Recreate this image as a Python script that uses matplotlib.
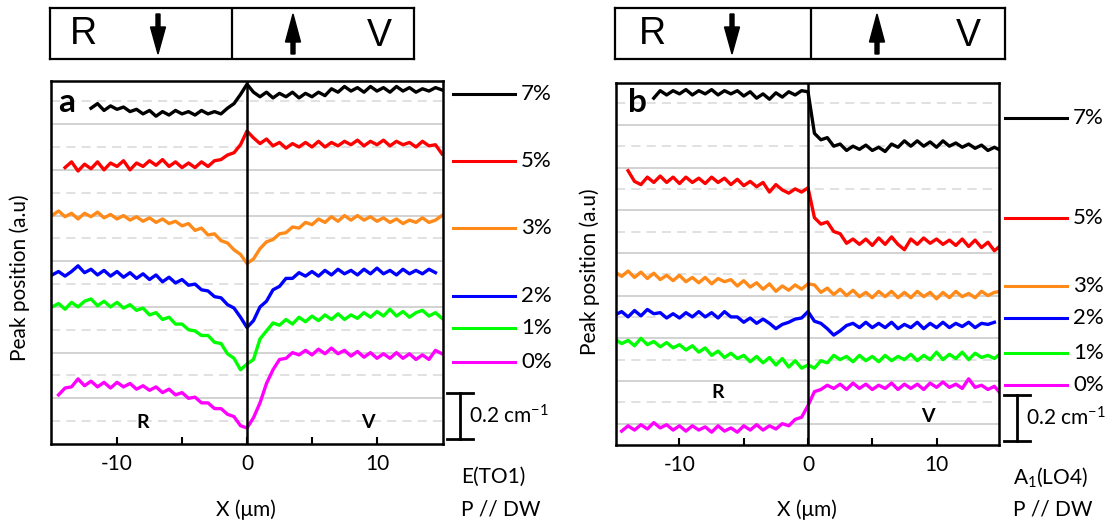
import numpy as np
import matplotlib.pyplot as plt
from matplotlib.lines import Line2D
from matplotlib.patches import FancyArrow

plt.rcParams['font.family'] = ['Lato', 'DejaVu Sans']
plt.rcParams['axes.unicode_minus'] = False
plt.rcParams['mathtext.default'] = 'regular'

nan = float('nan')

# position X (um), common grid for both panels
x = np.arange(-15, 15.01, 0.5)

labels = ['7%', '5%', '3%', '2%', '1%', '0%']
colors = ['#000000', '#ff0000', '#ff8a1a', '#0000ff', '#00ff00', '#ff00ff']

# panel a : E(TO1), peak shift in cm-1 (offset curves)
a_7 = [nan, nan, nan, nan, nan, nan,
       1.47, 1.49, 1.46, 1.48, 1.465, 1.475, 1.455, 1.465, 1.445, 1.46, 1.435, 1.455, 1.44, 1.46,
       1.445, 1.455, 1.44, 1.46, 1.445, 1.455, 1.445, 1.47, 1.49, 1.53, 1.575,
       1.54, 1.52, 1.54, 1.515, 1.535, 1.52, 1.54, 1.515, 1.535, 1.52, 1.54, 1.525, 1.555, 1.54, 1.565,
       1.545, 1.56, 1.54, 1.565, 1.545, 1.56, 1.54, 1.565, 1.545, 1.56, 1.54, 1.555, 1.545, 1.56, 1.55]
a_5 = [nan, nan,
       1.21, 1.235, 1.195, 1.225, 1.205, 1.235, 1.20, 1.23, 1.215, 1.24, 1.20, 1.23, 1.215, 1.24,
       1.22, 1.245, 1.215, 1.235, 1.21, 1.23, 1.21, 1.235, 1.215, 1.24, 1.245, 1.265, 1.275, 1.31, 1.37,
       1.34, 1.315, 1.335, 1.305, 1.32, 1.295, 1.315, 1.30, 1.32, 1.30, 1.325, 1.30, 1.32, 1.305, 1.325,
       1.31, 1.33, 1.305, 1.325, 1.31, 1.33, 1.305, 1.325, 1.31, 1.32, 1.30, 1.325, 1.305, 1.31, 1.27]
a_3 = [1.0, 1.02, 0.995, 1.01, 0.985, 1.01, 0.995, 1.015, 0.99, 1.005, 0.985, 1.0, 0.98, 0.995, 0.975,
       0.99, 0.97, 0.985, 0.965, 0.975, 0.955, 0.965, 0.935, 0.945, 0.915, 0.92, 0.89, 0.88, 0.85, 0.83,
       0.79,
       0.81, 0.855, 0.885, 0.895, 0.92, 0.925, 0.95, 0.945, 0.97, 0.96, 0.985, 0.97, 0.995, 0.975, 1.0,
       0.98, 1.0, 0.98, 0.995, 0.975, 0.99, 0.97, 0.985, 0.965, 0.98, 0.97, 0.99, 0.97, 0.98, 1.0]
a_2 = [0.74, 0.755, 0.735, 0.755, 0.78, 0.75, 0.765, 0.74, 0.76, 0.735, 0.755, 0.73, 0.75, 0.725, 0.745,
       0.72, 0.74, 0.71, 0.73, 0.705, 0.72, 0.695, 0.70, 0.675, 0.67, 0.645, 0.64, 0.61, 0.595, 0.555,
       0.51,
       0.54, 0.60, 0.625, 0.675, 0.69, 0.725, 0.725, 0.75, 0.735, 0.755, 0.735, 0.76, 0.74, 0.765, 0.745,
       0.76, 0.74, 0.765, 0.745, 0.77, 0.745, 0.76, 0.74, 0.765, 0.745, 0.76, 0.745, 0.765, 0.75, nan]
a_1 = [0.60, 0.615, 0.59, 0.62, 0.60, 0.625, 0.635, 0.605, 0.625, 0.60, 0.62, 0.595, 0.61, 0.585, 0.595,
       0.565, 0.575, 0.545, 0.555, 0.525, 0.525, 0.50, 0.495, 0.475, 0.475, 0.445, 0.44, 0.395, 0.375, 0.325,
       0.35,
       0.37, 0.46, 0.495, 0.53, 0.52, 0.545, 0.525, 0.555, 0.535, 0.56, 0.54, 0.565, 0.545, 0.57, 0.545,
       0.565, 0.55, 0.575, 0.555, 0.58, 0.56, 0.59, 0.56, 0.58, 0.555, 0.575, 0.585, 0.56, 0.575, 0.55]
a_0 = [nan, 0.215, 0.245, 0.25, 0.285, 0.255, 0.275, 0.25, 0.27, 0.245, 0.27, 0.25, 0.265, 0.24, 0.255,
       0.235, 0.25, 0.225, 0.24, 0.215, 0.225, 0.20, 0.205, 0.18, 0.18, 0.155, 0.155, 0.13, 0.12, 0.08,
       0.07,
       0.115, 0.18, 0.265, 0.325, 0.37, 0.375, 0.40, 0.39, 0.41, 0.39, 0.415, 0.395, 0.42, 0.395, 0.41,
       0.385, 0.405, 0.38, 0.40, 0.375, 0.395, 0.375, 0.40, 0.375, 0.395, 0.37, 0.39, 0.37, 0.41, 0.395]

# panel b : A1(LO4)
b_7 = [nan, nan, nan, nan, nan, nan,
       1.625, 1.66, 1.64, 1.66, 1.645, 1.665, 1.64, 1.66, 1.645, 1.665, 1.64, 1.66, 1.645, 1.66,
       1.635, 1.655, 1.625, 1.645, 1.62, 1.65, 1.63, 1.655, 1.64, 1.66, 1.655,
       1.46, 1.43, 1.44, 1.40, 1.41, 1.38, 1.40, 1.385, 1.405, 1.38, 1.395, 1.375, 1.41, 1.395, 1.425,
       1.40, 1.425, 1.40, 1.42, 1.395, 1.425, 1.40, 1.415, 1.395, 1.41, 1.39, 1.405, 1.38, 1.395, 1.38]
b_5 = [nan, nan,
       1.285, 1.235, 1.22, 1.255, 1.23, 1.26, 1.23, 1.255, 1.225, 1.255, 1.23, 1.25, 1.225, 1.255,
       1.23, 1.25, 1.22, 1.245, 1.215, 1.235, 1.21, 1.23, 1.185, 1.22, 1.195, 1.18, 1.20, 1.185, 1.205,
       1.065, 1.035, 1.045, 1.00, 0.99, 0.945, 0.965, 0.94, 0.965, 0.935, 0.97, 0.94, 0.975, 0.94, 0.915,
       0.965, 0.94, 0.97, 0.945, 0.965, 0.94, 0.96, 0.935, 0.965, 0.93, 0.96, 0.925, 0.95, 0.91, 0.935]
b_3 = [0.81, 0.79, 0.815, 0.785, 0.81, 0.78, 0.805, 0.775, 0.795, 0.77, 0.795, 0.765, 0.785, 0.76, 0.785,
       0.755, 0.78, 0.765, 0.775, 0.745, 0.77, 0.74, 0.76, 0.73, 0.755, 0.72, 0.745, 0.725, 0.75, 0.73,
       0.755,
       0.75, 0.715, 0.735, 0.705, 0.73, 0.70, 0.725, 0.695, 0.715, 0.69, 0.72, 0.695, 0.72, 0.69, 0.715,
       0.69, 0.72, 0.695, 0.715, 0.685, 0.715, 0.69, 0.72, 0.695, 0.71, 0.69, 0.72, 0.70, 0.715, 0.72]
b_2 = [0.61, 0.625, 0.60, 0.63, 0.605, 0.635, 0.615, 0.62, 0.595, 0.615, 0.595, 0.62, 0.60, 0.625, 0.60,
       0.62, 0.595, 0.625, 0.60, 0.60, 0.575, 0.595, 0.57, 0.59, 0.57, 0.545, 0.565, 0.575, 0.59, 0.595,
       0.625,
       0.58, 0.57, 0.545, 0.515, 0.535, 0.56, 0.57, 0.55, 0.575, 0.55, 0.57, 0.55, 0.575, 0.545, 0.565,
       0.55, 0.575, 0.545, 0.57, 0.55, 0.575, 0.55, 0.57, 0.555, 0.575, 0.55, 0.57, 0.565, 0.575, nan]
b_1 = [0.495, 0.475, 0.49, 0.465, 0.50, 0.47, 0.485, 0.46, 0.48, 0.455, 0.47, 0.445, 0.465, 0.435, 0.455,
       0.42, 0.44, 0.41, 0.43, 0.405, 0.42, 0.39, 0.415, 0.385, 0.41, 0.375, 0.405, 0.365, 0.395, 0.36,
       0.375,
       0.36, 0.395, 0.385, 0.42, 0.40, 0.415, 0.39, 0.42, 0.395, 0.415, 0.39, 0.42, 0.395, 0.415, 0.40,
       0.425, 0.395, 0.42, 0.40, 0.435, 0.40, 0.425, 0.405, 0.435, 0.40, 0.43, 0.41, 0.42, 0.405, 0.43]
b_0 = [nan, 0.065, 0.09, 0.07, 0.095, 0.075, 0.105, 0.08, 0.095, 0.07, 0.09, 0.065, 0.09, 0.07, 0.085,
       0.06, 0.09, 0.065, 0.08, 0.06, 0.09, 0.07, 0.095, 0.07, 0.09, 0.075, 0.10, 0.09, 0.12, 0.13,
       0.185,
       0.25, 0.26, 0.28, 0.265, 0.285, 0.26, 0.29, 0.265, 0.285, 0.26, 0.28, 0.265, 0.29, 0.26, 0.285,
       0.265, 0.285, 0.26, 0.29, 0.27, 0.295, 0.27, 0.285, 0.265, 0.31, 0.27, 0.28, 0.26, 0.275, 0.24]

series_a = [a_7, a_5, a_3, a_2, a_1, a_0]
series_b = [b_7, b_5, b_3, b_2, b_1, b_0]

W, H = 1105, 524
fig = plt.figure(figsize=(W / 100, H / 100), dpi=100)


def fx(px):
    return px / W


def fy(py):
    return 1 - py / H


def panel(rect, xlim, ylim, solid, dashed, data):
    ax = fig.add_axes(rect)
    ax.set_xlim(xlim)
    ax.set_ylim(ylim)
    for g in solid:
        ax.axhline(g, color='#c6c6c6', lw=1.1, zorder=0)
    for g in dashed:
        ax.axhline(g, color='#d9d9d9', lw=1.1, ls=(0, (6, 4)), zorder=0)
    for s, c in zip(data, colors):
        ax.plot(x, s, color=c, lw=2.4, zorder=2)
    ax.axvline(0, color='black', lw=1.8, zorder=3)
    ax.set_yticks([])
    ax.set_xticks([-10, 0, 10])
    ax.set_xticks([-5, 5], minor=True)
    ax.tick_params(axis='x', which='both', direction='in', length=5, width=1.5,
                   labelsize=15, pad=7)
    for sp in ax.spines.values():
        sp.set_linewidth(1.8)
    return ax


ax_a = panel([fx(51), fy(444), 392 / W, 363 / H], (-15.08, 15.08), (0, 1.589),
             np.arange(0.2, 1.45, 0.2), np.arange(0.1, 1.55, 0.2), series_a)
ax_b = panel([fx(616), fy(445), 383 / W, 362 / H], (-14.94, 14.86), (0, 1.696),
             np.arange(0.1, 1.55, 0.2), np.arange(0.2, 1.65, 0.2), series_b)


def side_legend(x0, x1, ys, bar_x, bar_top, bar_bot, name, name_y):
    for lab, c, yy in zip(labels, colors, ys):
        fig.add_artist(Line2D([fx(x0), fx(x1)], [fy(yy), fy(yy)], color=c, lw=2.2))
        fig.text(fx(x1 + 6), fy(yy), lab, fontsize=16, va='center', ha='left')
    # scale bar 0.2 cm-1
    fig.add_artist(Line2D([fx(bar_x), fx(bar_x)], [fy(bar_top), fy(bar_bot)], color='black', lw=2))
    for yy in (bar_top, bar_bot):
        fig.add_artist(Line2D([fx(bar_x - 13), fx(bar_x + 13)], [fy(yy), fy(yy)], color='black', lw=2))
    fig.text(fx(bar_x + 9), fy((bar_top + bar_bot) / 2), '0.2 cm$^{-1}$', fontsize=15,
             va='center', ha='left')
    fig.text(fx(x0 + 8), fy(name_y), name, fontsize=15, va='center', ha='left')
    fig.text(fx(x0 + 8), fy(510), 'P // DW', fontsize=15, va='center', ha='left')


side_legend(453, 515, [94, 161, 228, 296, 328, 362], 460, 393, 439, 'E(TO1)', 477)
side_legend(1005, 1067, [118, 218, 286, 318, 353, 385], 1017, 395, 441, 'A$_{1}$(LO4)', 477)

# axis labels
fig.text(fx(246), fy(510), 'X (\u03bcm)', fontsize=15, ha='center', va='center')
fig.text(fx(807), fy(510), 'X (\u03bcm)', fontsize=15, ha='center', va='center')
fig.text(fx(20), fy(278), 'Peak position (a.u)', fontsize=15, rotation=90, ha='center', va='center')
fig.text(fx(590), fy(272), 'Peak position (a.u)', fontsize=15, rotation=90, ha='center', va='center')

# panel letters and region labels
fig.text(fx(67), fy(103), 'a', fontsize=24, fontweight='bold', ha='center', va='center')
fig.text(fx(637), fy(103), 'b', fontsize=24, fontweight='bold', ha='center', va='center')
fig.text(fx(143), fy(423), 'R', fontsize=14, fontweight='bold', ha='center', va='center')
fig.text(fx(368), fy(423), 'V', fontsize=14, fontweight='bold', ha='center', va='center')
fig.text(fx(718), fy(393), 'R', fontsize=14, fontweight='bold', ha='center', va='center')
fig.text(fx(928), fy(417), 'V', fontsize=14, fontweight='bold', ha='center', va='center')


def domain_box(x0, x1, div, r_x, down_x, up_x, v_x):
    y0, y1 = 8, 59
    bx = fig.add_axes([fx(x0), fy(y1), (x1 - x0) / W, (y1 - y0) / H])
    bx.set_xlim(x0, x1)
    bx.set_ylim(y1, y0)
    bx.set_xticks([])
    bx.set_yticks([])
    for sp in bx.spines.values():
        sp.set_linewidth(1.6)
    bx.axvline(div, color='black', lw=1.6)
    bx.text(r_x, 34, 'R', fontsize=27, family='Liberation Sans', ha='center', va='center')
    bx.text(v_x, 36, 'V', fontsize=27, family='Liberation Sans', ha='center', va='center')
    bx.add_patch(FancyArrow(down_x, 14, 0, 40, width=4, head_width=15, head_length=27,
                            length_includes_head=True, color='black'))
    bx.add_patch(FancyArrow(up_x, 54, 0, -40, width=4, head_width=15, head_length=28,
                            length_includes_head=True, color='black'))


domain_box(50, 414, 232, 83, 158, 293, 379)
domain_box(615, 1005, 811, 652, 732, 877, 968)

fig.savefig('out.png', dpi=100)
